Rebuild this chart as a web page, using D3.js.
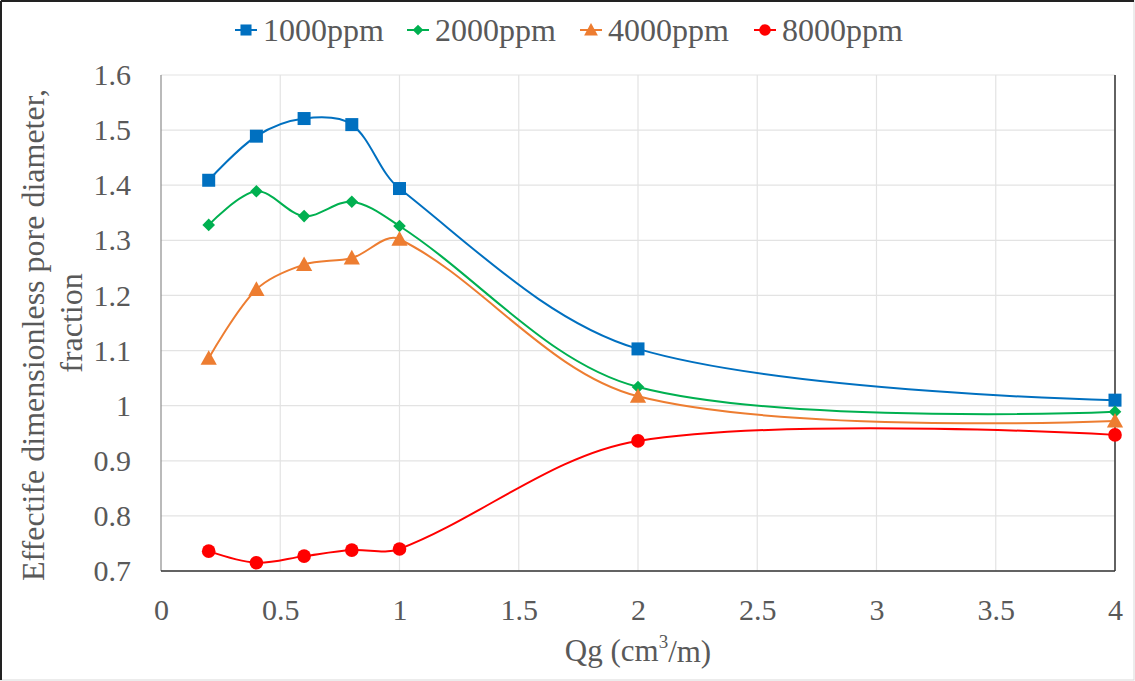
<!DOCTYPE html>
<html>
<head>
<meta charset="utf-8">
<script src="https://cdn.jsdelivr.net/npm/d3@7"></script>
</head>
<body style="margin:0">
<svg id="chart" width="1135" height="681" style="display:block"></svg>
<script>
// Gas flow rate Qg (cm3/m)
const qg = [0.2, 0.4, 0.6, 0.8, 1, 2, 4];

// Effective dimensionless pore diameter per polymer concentration
const ppm1000 = [1.409, 1.489, 1.521, 1.510, 1.394, 1.103, 1.010];
const ppm2000 = [1.328, 1.389, 1.344, 1.370, 1.326, 1.034, 0.989];
const ppm4000 = [1.086, 1.211, 1.256, 1.268, 1.302, 1.017, 0.972];
const ppm8000 = [0.736, 0.715, 0.727, 0.738, 0.740, 0.936, 0.947];

const seriesNames = ["1000ppm", "2000ppm", "4000ppm", "8000ppm"];
const xTicks = [0, 0.5, 1, 1.5, 2, 2.5, 3, 3.5, 4];
const yTicks = [0.7, 0.8, 0.9, 1.0, 1.1, 1.2, 1.3, 1.4, 1.5, 1.6];

const series = [
  { name: seriesNames[0], values: ppm1000, color: "#0070C0", marker: "square" },
  { name: seriesNames[1], values: ppm2000, color: "#00B050", marker: "diamond" },
  { name: seriesNames[2], values: ppm4000, color: "#ED7D31", marker: "triangle" },
  { name: seriesNames[3], values: ppm8000, color: "#FF0000", marker: "circle" }
];

const FONT = '"Liberation Serif"';
const TXT = "#595959";

const svg = d3.select("#chart");
const W = 1135, H = 681;
const plot = { left: 161, right: 1115, top: 75, bottom: 571 };

const x = d3.scaleLinear().domain([0, 4]).range([plot.left, plot.right]);
const y = d3.scaleLinear().domain([0.7, 1.6]).range([plot.bottom, plot.top]);

// outer frame
svg.append("rect").attr("x", 0.5).attr("y", 0.5).attr("width", W - 1.5).attr("height", H - 1.5)
  .attr("fill", "#fff").attr("stroke", "#d9d9d9").attr("stroke-width", 1);
svg.append("line").attr("x1", 1).attr("x2", W - 1).attr("y1", 1).attr("y2", 1)
  .attr("stroke", "#222").attr("stroke-width", 2);
svg.append("line").attr("x1", 1).attr("x2", 1).attr("y1", 1).attr("y2", H - 1)
  .attr("stroke", "#222").attr("stroke-width", 2);

// gridlines
const grid = svg.append("g");
grid.selectAll("line.h").data(yTicks).join("line")
  .attr("x1", plot.left).attr("x2", plot.right)
  .attr("y1", d => y(d)).attr("y2", d => y(d))
  .attr("stroke", "#e3e3e3").attr("stroke-width", 1.2);
grid.selectAll("line.v").data(xTicks.slice(1)).join("line")
  .attr("x1", d => x(d)).attr("x2", d => x(d))
  .attr("y1", plot.top).attr("y2", plot.bottom)
  .attr("stroke", "#e3e3e3").attr("stroke-width", 1.2);

// axis lines
svg.append("line").attr("x1", plot.left).attr("x2", plot.left)
  .attr("y1", plot.top).attr("y2", plot.bottom).attr("stroke", "#8c8c8c").attr("stroke-width", 1.2);
svg.append("line").attr("x1", plot.right).attr("x2", plot.right)
  .attr("y1", plot.top).attr("y2", plot.bottom).attr("stroke", "#333").attr("stroke-width", 1.5);
svg.append("line").attr("x1", plot.left).attr("x2", plot.right)
  .attr("y1", plot.bottom).attr("y2", plot.bottom).attr("stroke", "#333").attr("stroke-width", 1.5);

// tick labels via d3 axes (no tick marks, no domain path)
const yAxis = d3.axisLeft(y).tickValues(yTicks).tickSize(0).tickPadding(0)
  .tickFormat(d => String(+d.toFixed(1)));
const gy = svg.append("g").attr("transform", "translate(131,0)").call(yAxis);
const xAxis = d3.axisBottom(x).tickValues(xTicks).tickSize(0).tickPadding(0)
  .tickFormat(d => String(d));
const gx = svg.append("g").attr("transform", "translate(0,599)").call(xAxis);
[gx, gy].forEach(g => {
  g.select(".domain").remove();
  g.attr("font-family", "Liberation Serif").attr("font-size", 30);
  g.selectAll("text").style("font-family", FONT).attr("fill", TXT);
});

// axis titles
const xt = svg.append("text").attr("x", x(2)).attr("y", 650).attr("dy", "0.35em")
  .attr("text-anchor", "middle").attr("font-size", 31)
  .attr("font-family", "Liberation Serif").style("font-family", FONT).attr("fill", TXT);
xt.append("tspan").text("Qg (cm");
xt.append("tspan").attr("font-size", 19).attr("dy", "-0.7em").text("3");
xt.append("tspan").attr("dy", "0.45em").text("/m)");

const yt = svg.append("text").attr("transform", "translate(44,335) rotate(-90)")
  .attr("text-anchor", "middle").attr("font-size", 32)
  .attr("font-family", "Liberation Serif").style("font-family", FONT).attr("fill", TXT);
yt.append("tspan").attr("x", 0).attr("dy", 0).text("Effectife dimensionless pore diameter,");
yt.append("tspan").attr("x", 12).attr("y", 0).attr("dy", 38).text("fraction");

// markers
function drawMarker(g, type, cx, cy, color, s) {
  if (type === "square") {
    g.append("rect").attr("x", cx - s).attr("y", cy - s).attr("width", 2 * s).attr("height", 2 * s).attr("fill", color);
  } else if (type === "diamond") {
    const r = s * 1.05;
    g.append("path").attr("d", `M${cx},${cy - r}L${cx + r},${cy}L${cx},${cy + r}L${cx - r},${cy}Z`).attr("fill", color);
  } else if (type === "triangle") {
    const r = s * 1.25;
    g.append("path").attr("d", `M${cx},${cy - r}L${cx + r},${cy + r * 0.8}L${cx - r},${cy + r * 0.8}Z`).attr("fill", color);
  } else {
    g.append("circle").attr("cx", cx).attr("cy", cy).attr("r", s * 1.05).attr("fill", color);
  }
}

// smooth Bezier path through scaled points, tangents weighted by chord length
function smoothPath(pts) {
  const p = d3.path();
  const n = pts.length;
  const dist = (a, b) => Math.hypot(b[0] - a[0], b[1] - a[1]);
  p.moveTo(pts[0][0], pts[0][1]);
  for (let i = 0; i < n - 1; i++) {
    const p1 = pts[i], p2 = pts[i + 1];
    const d12 = dist(p1, p2);
    let c1 = p1, c2 = p2;
    if (i > 0) {
      const p0 = pts[i - 1], k = d12 / (3 * (dist(p0, p1) + d12));
      c1 = [p1[0] + (p2[0] - p0[0]) * k, p1[1] + (p2[1] - p0[1]) * k];
    }
    if (i + 2 < n) {
      const p3 = pts[i + 2], k = d12 / (3 * (d12 + dist(p2, p3)));
      c2 = [p2[0] - (p3[0] - p1[0]) * k, p2[1] - (p3[1] - p1[1]) * k];
    }
    p.bezierCurveTo(c1[0], c1[1], c2[0], c2[1], p2[0], p2[1]);
  }
  return p.toString();
}

const sizes = { square: 6.5, diamond: 6, triangle: 6.5, circle: 6.5 };
const layer = svg.append("g");
series.forEach(s => {
  const pts = qg.map((q, i) => [x(q), y(s.values[i])]);
  layer.append("path").attr("d", smoothPath(pts)).attr("fill", "none")
    .attr("stroke", s.color).attr("stroke-width", 2);
});
series.forEach(s => {
  const g = layer.append("g");
  qg.forEach((q, i) => drawMarker(g, s.marker, x(q), y(s.values[i]), s.color, sizes[s.marker]));
});

// legend
const legendTextX = [263, 435, 608, 782];
const legend = svg.append("g");
series.forEach((s, i) => {
  const lx = legendTextX[i] - 17, ly = 30;
  legend.append("line").attr("x1", lx - 11).attr("x2", lx + 11).attr("y1", ly).attr("y2", ly)
    .attr("stroke", s.color).attr("stroke-width", 2);
  drawMarker(legend, s.marker, lx, ly, s.color, sizes[s.marker] * 0.85);
  legend.append("text").attr("x", legendTextX[i]).attr("y", ly).attr("dy", "0.35em")
    .attr("font-size", 32).attr("font-family", "Liberation Serif").style("font-family", FONT)
    .attr("fill", TXT).text(s.name);
});
</script>
</body>
</html>
